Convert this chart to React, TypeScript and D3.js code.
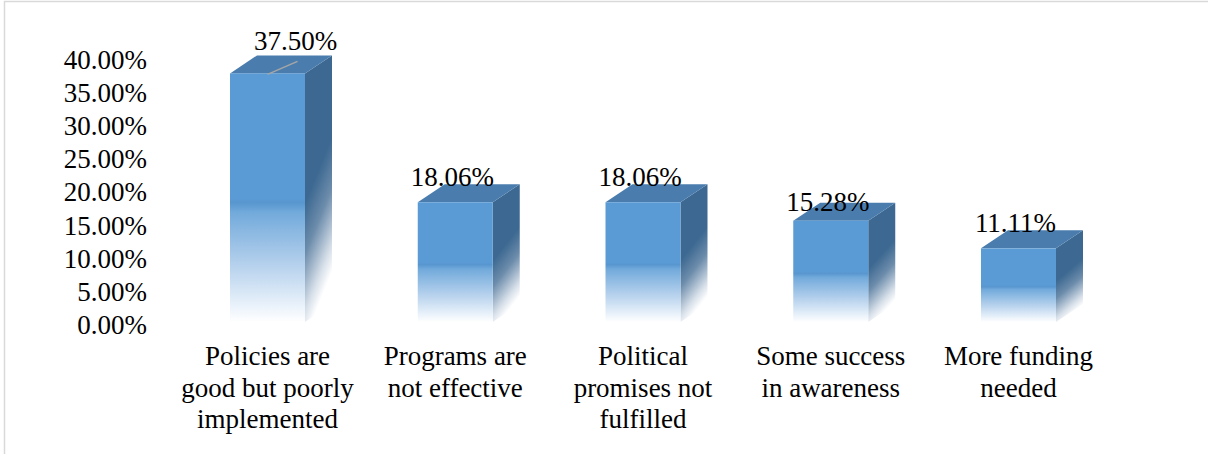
import React from "react";
import * as d3 from "d3";

const categories = [
  ["Policies are", "good but poorly", "implemented"],
  ["Programs are", "not effective"],
  ["Political", "promises not", "fulfilled"],
  ["Some success", "in awareness"],
  ["More funding", "needed"],
];
const values = [37.5, 18.06, 18.06, 15.28, 11.11];
const valueLabels = ["37.50%", "18.06%", "18.06%", "15.28%", "11.11%"];
const ticks = [0, 5, 10, 15, 20, 25, 30, 35, 40];

const W = 1208;
const H = 454;
const FONT = "'Liberation Serif', 'Times New Roman', serif";

export default function App() {
  const ids = categories.map((_, i) => "c" + i);
  const x = d3.scalePoint<string>().domain(ids).range([267.5, 1018.5]);
  const y = d3.scaleLinear().domain([0, 40]).range([322, 56.8]);
  const bw = 75;
  const dx = 27;
  const dy = 18;
  const front = "#5B9BD5";
  const top = "#4A7DAE";
  const side = "#3C6891";
  const ts = { fontFamily: FONT, fontSize: "27px" } as React.CSSProperties;

  return (
    <svg
      width={W}
      height={H}
      style={{ position: "absolute", left: 0, top: 0, background: "#fff", fontFamily: FONT }}
    >
      <defs>
        <linearGradient id="gFront" x1="0" y1="0" x2="0" y2="1">
          <stop offset="0" stopColor={front} />
          <stop offset="0.5" stopColor={front} />
          <stop offset="0.52" stopColor="#5896CF" />
          <stop offset="0.56" stopColor="#72AADB" />
          <stop offset="0.75" stopColor="#AFCDEB" />
          <stop offset="0.93" stopColor="#E8F1FA" />
          <stop offset="1" stopColor="#FFFFFF" />
        </linearGradient>
        <linearGradient id="gSide" x1="0" y1="0" x2="0.25" y2="1">
          <stop offset="0" stopColor={side} />
          <stop offset="0.52" stopColor={side} />
          <stop offset="0.7" stopColor="#6C8CAB" />
          <stop offset="0.9" stopColor="#D5DEE8" />
          <stop offset="1" stopColor="#FFFFFF" />
        </linearGradient>
      </defs>
      <rect x={4.5} y={1.5} width={W + 10} height={H + 10} fill="none" stroke="#D9D9D9" strokeWidth={1.5} />

      {ticks.map((t) => (
        <text
          key={t}
          x={147}
          y={y(t) + 3}
          textAnchor="end"
          dominantBaseline="central"
          style={ts}
          fill="#000"
        >
          {t.toFixed(2) + "%"}
        </text>
      ))}

      {values.map((v, i) => {
        const cx = x(ids[i]) as number;
        const x0 = cx - bw / 2;
        const x1 = cx + bw / 2;
        const yt = y(v);
        const yb = y(0);
        return (
          <g key={i}>
            <path
              d={`M${x1},${yt} L${x1 + dx},${yt - dy} L${x1 + dx},${yb - dy} L${x1},${yb} Z`}
              fill="url(#gSide)"
            />
            <path
              d={`M${x0},${yt} L${x0 + dx},${yt - dy} L${x1 + dx},${yt - dy} L${x1},${yt} Z`}
              fill={top}
            />
            <rect x={x0} y={yt} width={bw} height={yb - yt} fill="url(#gFront)" />
          </g>
        );
      })}

      {values.map((v, i) => {
        const cx = x(ids[i]) as number;
        const yt = y(v);
        if (i === 0) {
          return (
            <g key={"l" + i}>
              <line x1={cx} y1={yt + 1} x2={cx + 30} y2={yt - 12} stroke="#A6A6A6" strokeWidth={1.5} />
              <text x={cx + 28} y={yt - 23} textAnchor="middle" style={ts} fill="#000">
                {valueLabels[i]}
              </text>
            </g>
          );
        }
        const off = i === 3 ? 10 : 16.5;
        return (
          <text key={"l" + i} x={cx - 3} y={yt - off} textAnchor="middle" style={ts} fill="#000">
            {valueLabels[i]}
          </text>
        );
      })}

      {categories.map((lines, i) => {
        const cx = x(ids[i]) as number;
        return (
          <text key={"c" + i} textAnchor="middle" style={ts} fill="#000">
            {lines.map((ln, j) => (
              <tspan key={j} x={cx} y={365 + j * 31.5}>
                {ln}
              </tspan>
            ))}
          </text>
        );
      })}
    </svg>
  );
}
